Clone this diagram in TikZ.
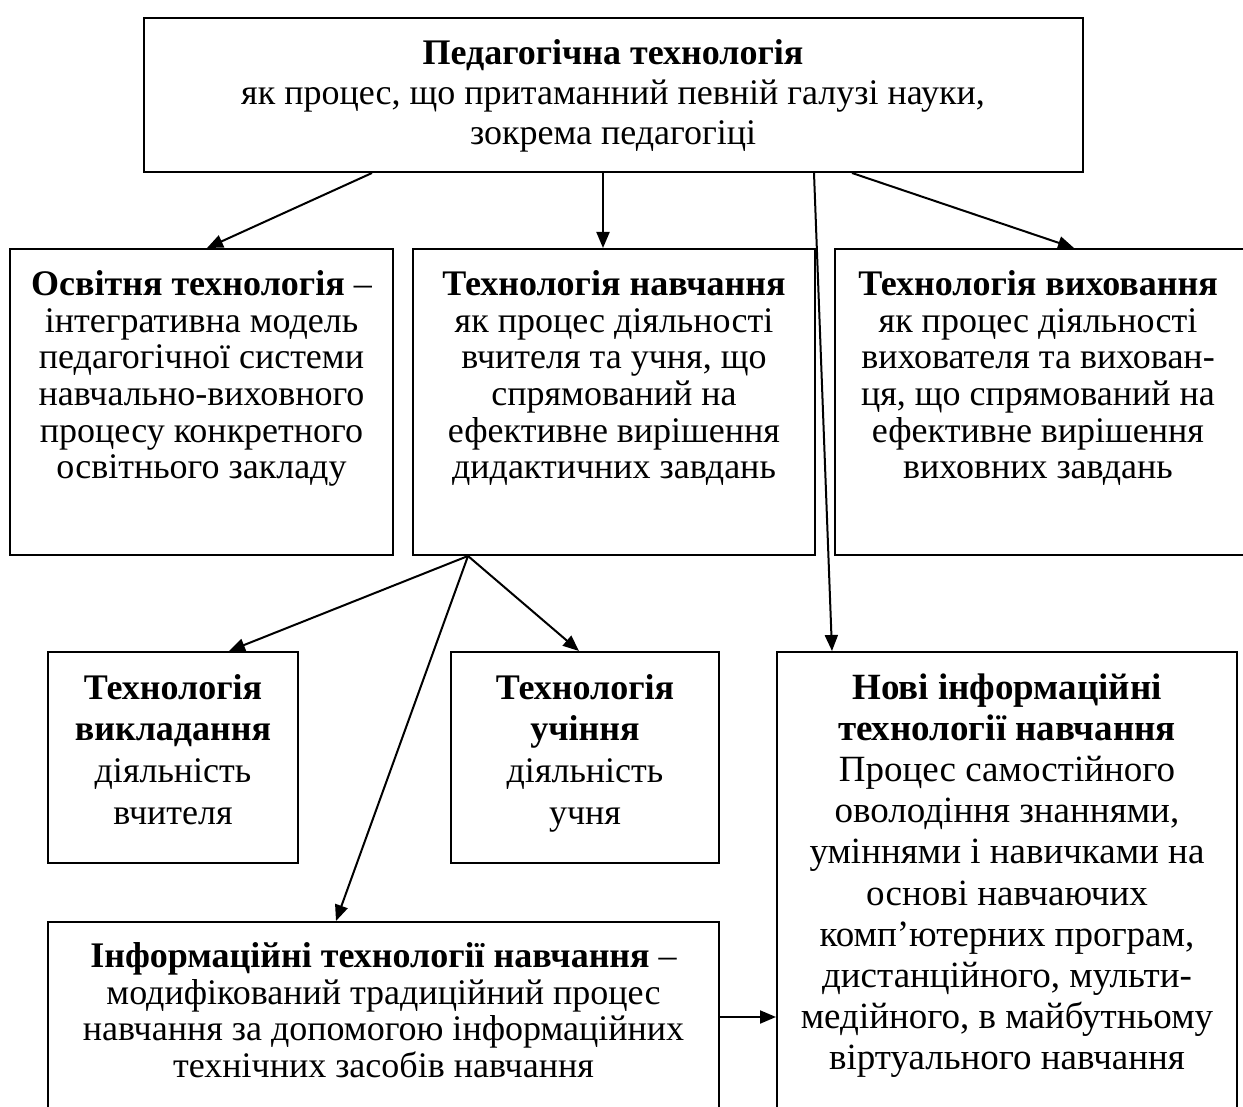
\documentclass[tikz,border=0pt]{standalone}
\usepackage{fontspec}
\setmainfont{Liberation Serif}
\usetikzlibrary{arrows.meta,fit}
\begin{document}
\begin{tikzpicture}[x=0.5pt,y=-0.5pt,
  box/.style={draw,line width=1pt,inner sep=0pt},
  txt/.style={anchor=north,inner sep=0pt,align=center,font=\fontsize{18}{18.35}\selectfont},
  bigtxt/.style={anchor=north,inner sep=0pt,align=center,font=\fontsize{18}{20.8}\selectfont},
  ftxt/.style={anchor=north,inner sep=0pt,align=center,font=\fontsize{18.5}{20.6}\selectfont},
  toptxt/.style={anchor=north,inner sep=0pt,align=center,font=\fontsize{18}{20}\selectfont},
  arr/.style={line width=1pt,-{Triangle[length=8pt,width=6.5pt]}}]
\useasboundingbox (0,0) rectangle (1243,1107);
\fill[white] (0,0) rectangle (1243,1107);
\clip (0,0) rectangle (1243,1107);

% boxes
\node[box,fit={(144,18) (1083,172)}] (T) {};
\node[box,fit={(10,249) (393,555)}] (A) {};
\node[box,fit={(413,249) (815,555)}] (B) {};
\node[box,fit={(835,249) (1260,555)}] (C) {};
\node[box,fit={(48,652) (298,863)}] (D) {};
\node[box,fit={(451,652) (719,863)}] (E) {};
\node[box,fit={(777,652) (1237,1130)}] (F) {};
\node[box,fit={(48,922) (719,1130)}] (G) {};

% texts
\node[toptxt] (tT) at (613,39) {\textbf{Педагогічна технологія}\\як процес, що притаманний певній галузі науки,\\зокрема педагогіці};
\node[txt] (tA) at (201.5,270) {\textbf{Освітня технологія} –\\інтегративна модель\\педагогічної системи\\навчально-виховного\\процесу конкретного\\освітнього закладу};
\node[txt] (tB) at (614,270) {\textbf{Технологія навчання}\\як процес діяльності\\вчителя та учня, що\\спрямований на\\ефективне вирішення\\дидактичних завдань};
\node[txt] (tC) at (1038,270) {\textbf{Технологія виховання}\\як процес діяльності\\вихователя та вихован-\\ця, що спрямований на\\ефективне вирішення\\виховних завдань};
\node[bigtxt] (tD) at (173,674) {\textbf{Технологія}\\\textbf{викладання}\\діяльність\\вчителя};
\node[bigtxt] (tE) at (585,674) {\textbf{Технологія}\\\textbf{учіння}\\діяльність\\учня};
\node[ftxt] (tF) at (1007,673) {\textbf{Нові інформаційні}\\\textbf{технології навчання}\\Процес самостійного\\оволодіння знаннями,\\уміннями і навичками на\\основі навчаючих\\комп’ютерних програм,\\дистанційного, мульти-\\медійного, в майбутньому\\віртуального навчання};
\node[txt] (tG) at (383.5,942) {\textbf{Інформаційні технології навчання} –\\модифікований традиційний процес\\навчання за допомогою інформаційних\\технічних засобів навчання};

% connectors
\draw[arr] ([xshift=229*0.5pt]T.south west) -- ([xshift=198*0.5pt]A.north west);
\draw[arr] ([xshift=460*0.5pt]T.south west) -- ([xshift=191*0.5pt]B.north west);
\draw[arr] ([xshift=709*0.5pt]T.south west) -- ([xshift=240*0.5pt]C.north west);
\draw[arr] ([xshift=671*0.5pt]T.south west) -- ([xshift=56*0.5pt]F.north west);
\coordinate (bfan) at ([xshift=56*0.5pt]B.south west);
\draw[arr] (bfan) -- ([xshift=182*0.5pt]D.north west);
\draw[arr] (bfan) -- ([xshift=129*0.5pt]E.north west);
\draw[arr] (bfan) -- ([xshift=289*0.5pt]G.north west);
\draw[arr] ([yshift=-96*0.5pt]G.north east) -- ([yshift=-366*0.5pt]F.north west);
\end{tikzpicture}
\end{document}
